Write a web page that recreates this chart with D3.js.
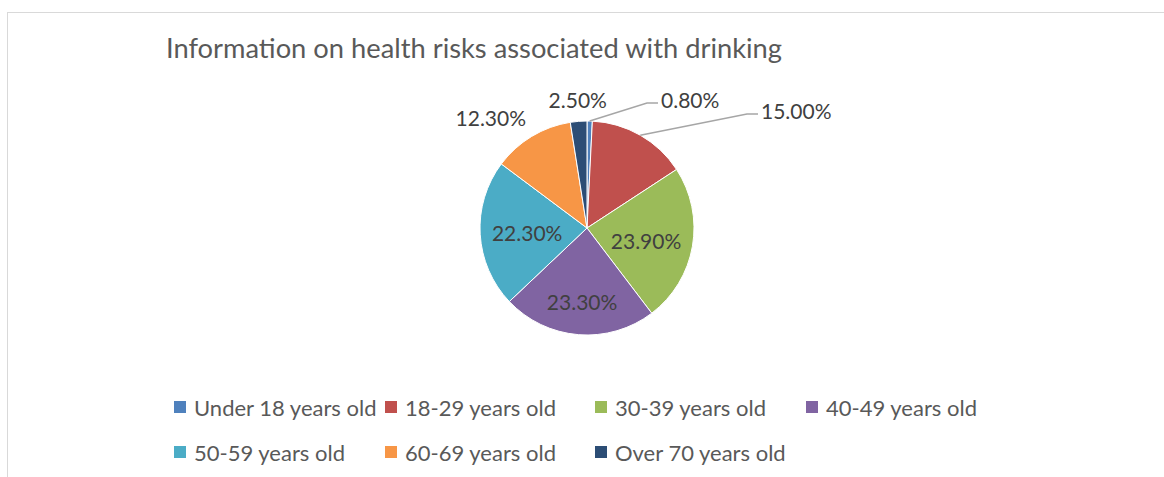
<!DOCTYPE html>
<html>
<head>
<meta charset="utf-8">
<script src="https://cdn.jsdelivr.net/npm/d3@7"></script>
<style>
  body { margin: 0; background: #fff; }
  svg { display: block; font-family: Lato, "Noto Sans", sans-serif; }
</style>
</head>
<body>
<div id="chart"></div>
<script>
// Data
const categories = ["Under 18 years old", "18-29 years old", "30-39 years old", "40-49 years old",
  "50-59 years old", "60-69 years old", "Over 70 years old"];
const values = [0.8, 15.0, 23.9, 23.3, 22.3, 12.3, 2.5];
const colors = ["#4f81bd", "#c0504d", "#9bbb59", "#8064a2", "#4bacc6", "#f79646", "#2c4d75"];
const title = "Information on health risks associated with drinking";

// Layout
const w = 1164, h = 477;
const cx = 587, cy = 228, r = 107;
// labels that Excel moved out with a leader line: elbow offset from centre
const leaderElbow = { 0: [60, -125], 1: [160, -114] };

const svg = d3.select("#chart").append("svg")
  .attr("width", w).attr("height", h);

// chart area border
svg.append("rect")
  .attr("x", 7.5).attr("y", 12.5)
  .attr("width", 1300).attr("height", 600)
  .attr("fill", "#fff").attr("stroke", "#d9d9d9");

svg.append("text")
  .attr("x", 166).attr("y", 58)
  .attr("fill", "#595959")
  .style("font-size", "27.3px")
  .text(title);

const pie = d3.pie().sort(null).value(d => d);
const arcs = pie(values);
const arc = d3.arc().innerRadius(0).outerRadius(r);

const g = svg.append("g").attr("transform", "translate(" + cx + "," + cy + ")");

g.selectAll("path")
  .data(arcs)
  .enter()
  .append("path")
  .attr("d", arc)
  .attr("fill", (d, i) => colors[i])
  .attr("stroke", "#fff")
  .attr("stroke-width", 1);

const fmt = v => v.toFixed(2) + "%";
const mid = d => (d.startAngle + d.endAngle) / 2;

// Data labels
arcs.forEach((d, i) => {
  const a = mid(d);
  const sx = Math.sin(a), sy = -Math.cos(a);
  const label = g.append("text")
    .attr("fill", "#404040")
    .style("font-size", "21px")
    .text(fmt(values[i]));

  if (d.value > 20) {
    // inside label
    label.attr("x", sx * r * 0.56)
      .attr("y", sy * r * 0.69)
      .attr("text-anchor", "middle")
      .attr("dominant-baseline", "central");
  } else if (leaderElbow[i]) {
    const [ex, ey] = leaderElbow[i];
    const p = [sx * r, sy * r];
    g.append("polyline")
      .attr("points", [p, [ex, ey], [ex + 11, ey]].map(q => q.join(",")).join(" "))
      .attr("fill", "none")
      .attr("stroke", "#a6a6a6")
      .attr("stroke-width", 1.5);
    label.attr("x", ex + 14)
      .attr("y", ey - 4)
      .attr("dominant-baseline", "central");
  } else {
    const R = r + 11;
    const px = sx * R, py = sy * R;
    label.attr("x", px)
      .attr("y", py + sy * 11)
      .attr("text-anchor", Math.abs(sx) < 0.2 ? "middle" : (sx < 0 ? "end" : "start"))
      .attr("dominant-baseline", "central");
  }
});

// Legend
const legendX = [174, 385, 595, 806];
const legendY = [407, 452];
const legend = svg.selectAll(".legend")
  .data(categories)
  .enter()
  .append("g")
  .attr("class", "legend")
  .attr("transform", (d, i) => "translate(" + legendX[i % 4] + "," + legendY[Math.floor(i / 4)] + ")");

legend.append("rect")
  .attr("x", 0).attr("y", -6)
  .attr("width", 12).attr("height", 12)
  .attr("fill", (d, i) => colors[i]);

legend.append("text")
  .attr("x", 20).attr("y", 0)
  .attr("dominant-baseline", "central")
  .attr("fill", "#595959")
  .style("font-size", "22px")
  .text(d => d);
</script>
</body>
</html>
